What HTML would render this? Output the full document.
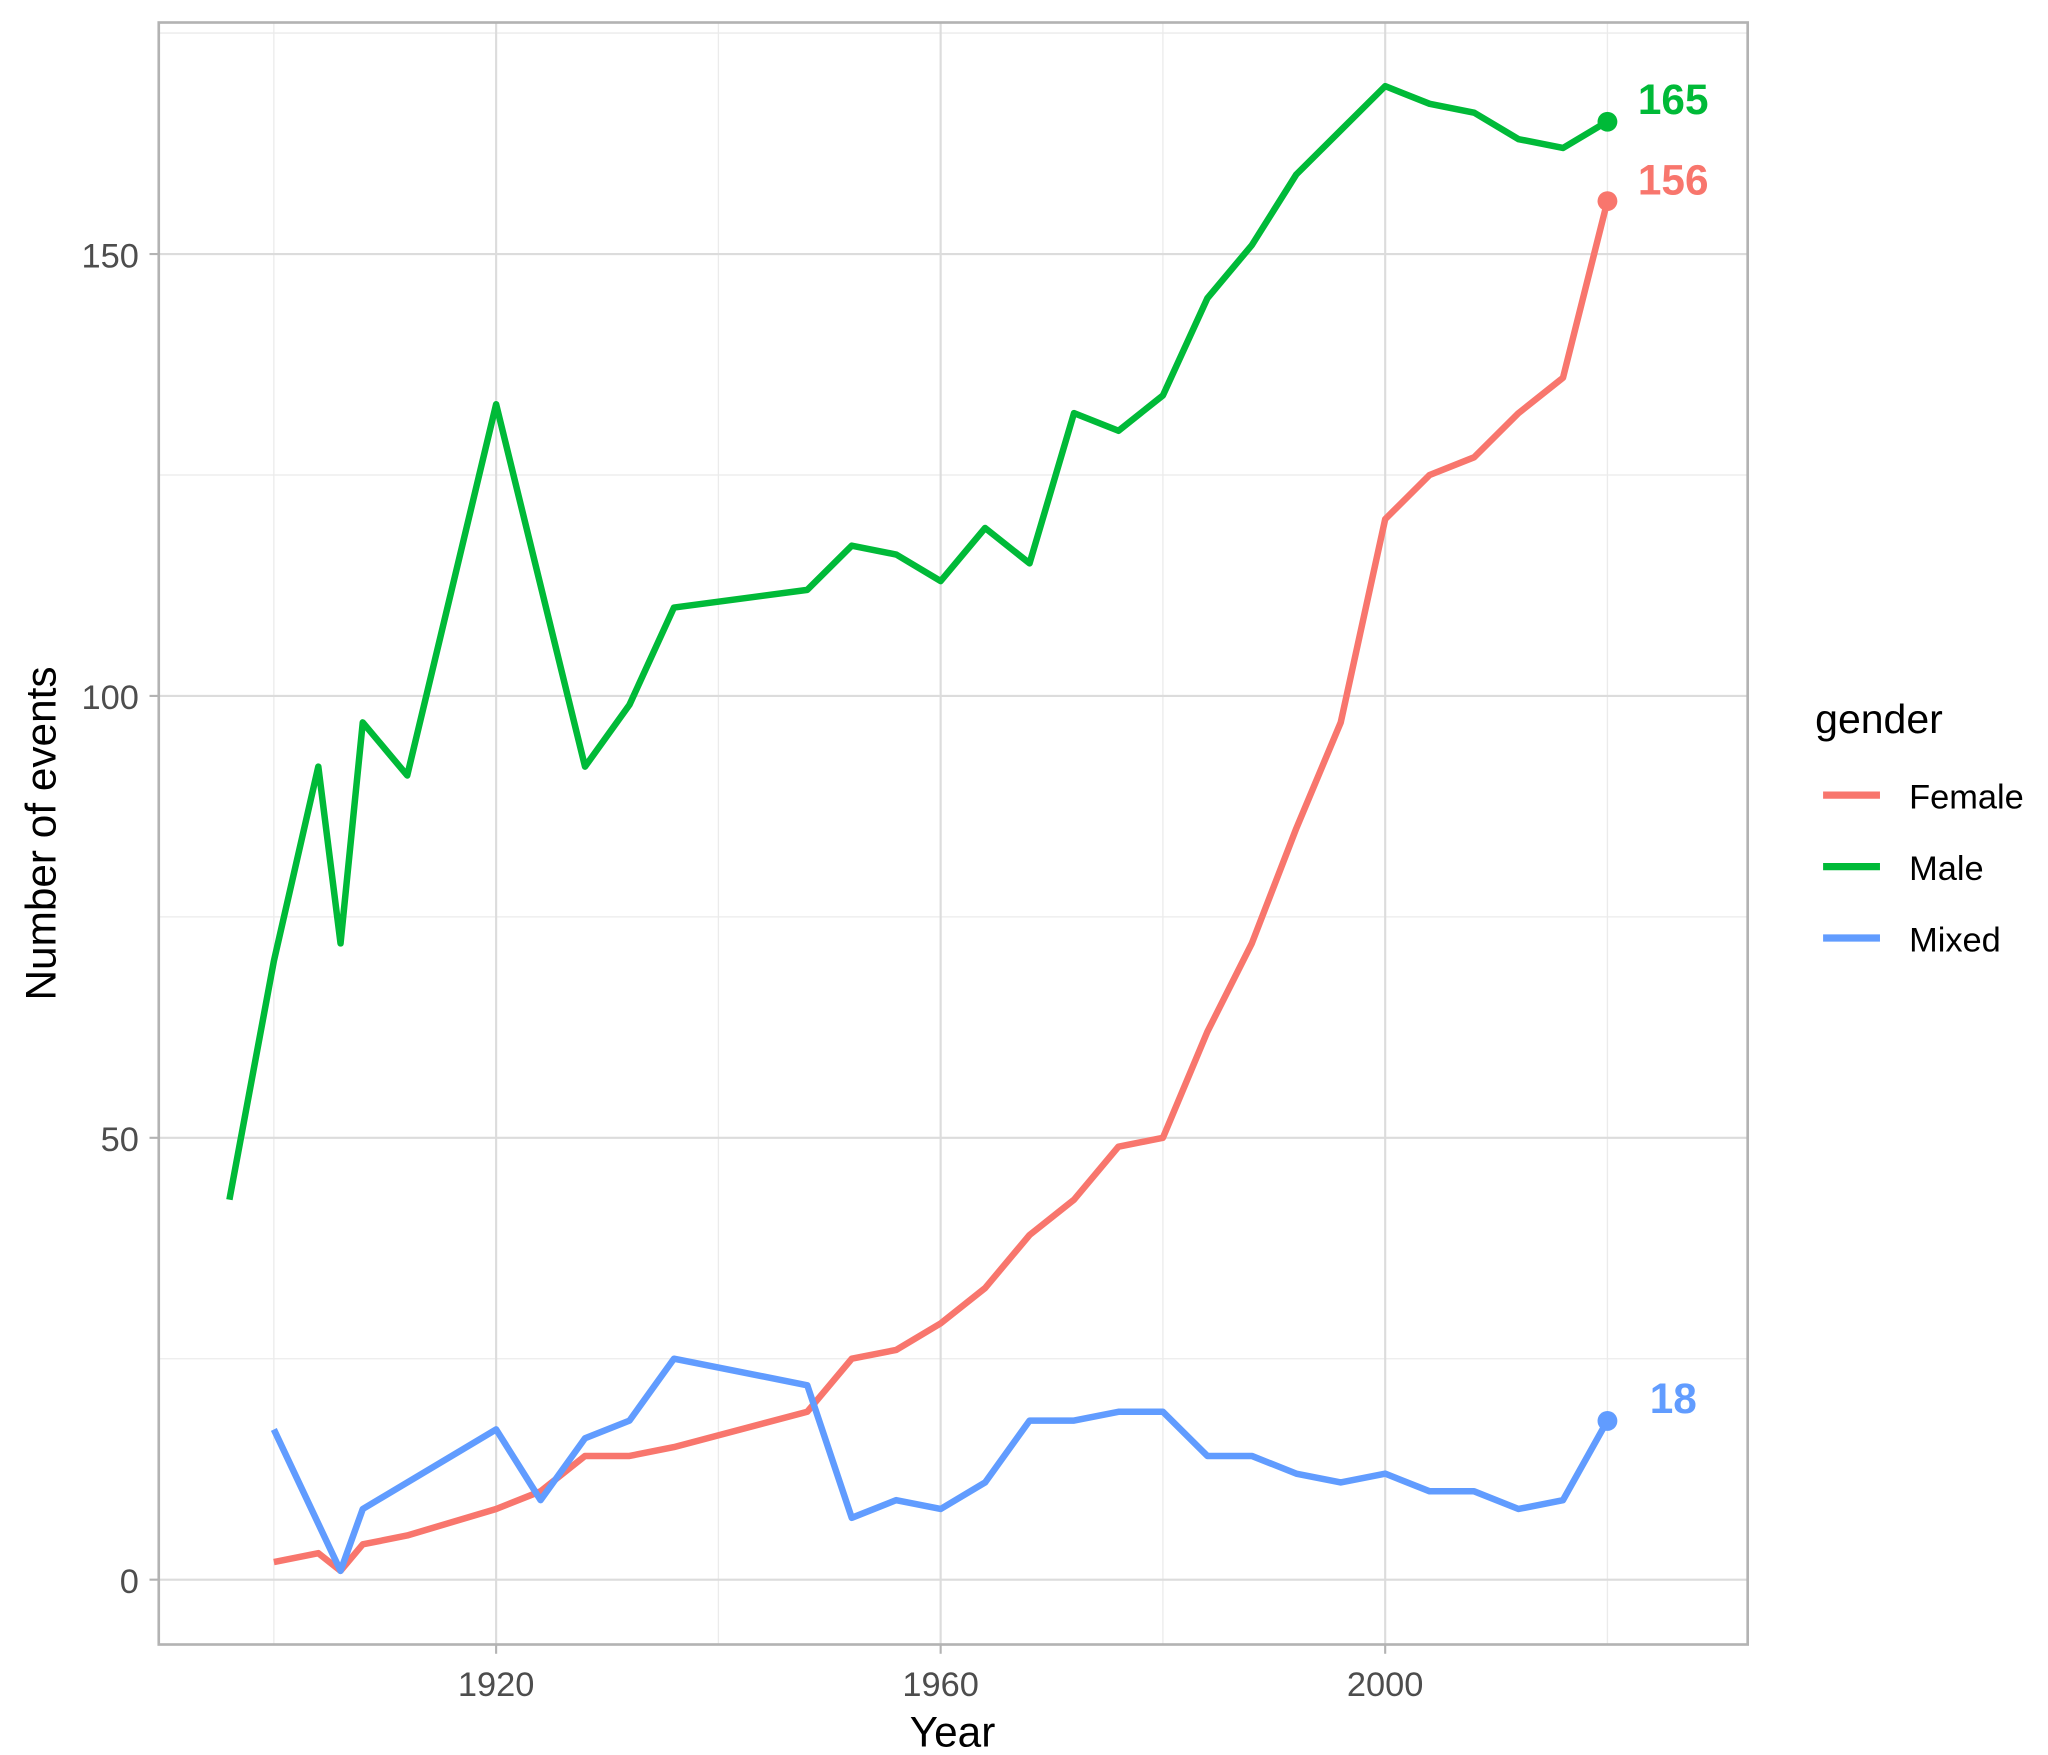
<!DOCTYPE html>
<html><head><meta charset="utf-8"><style>html,body{margin:0;padding:0;background:#fff}svg{display:block}</style></head>
<body>
<svg width="2048" height="1755" viewBox="0 0 1548 1326.5" xmlns="http://www.w3.org/2000/svg" font-family="Liberation Sans, Arial, sans-serif">
<rect width="1548" height="1326.5" fill="#fff"/>
<g stroke="#ebebeb" stroke-width="1">
<line x1="120" x2="1321" y1="1027" y2="1027"/><line x1="120" x2="1321" y1="693" y2="693"/><line x1="120" x2="1321" y1="359" y2="359"/><line x1="120" x2="1321" y1="25" y2="25"/>
<line y1="17" y2="1243" x1="207" x2="207"/><line y1="17" y2="1243" x1="543" x2="543"/><line y1="17" y2="1243" x1="879" x2="879"/><line y1="17" y2="1243" x1="1215" x2="1215"/>
</g>
<g stroke="#dcdcdc" stroke-width="1.6">
<line x1="120" x2="1321" y1="1194" y2="1194"/><line x1="120" x2="1321" y1="860" y2="860"/><line x1="120" x2="1321" y1="526" y2="526"/><line x1="120" x2="1321" y1="192" y2="192"/>
<line y1="17" y2="1243" x1="375" x2="375"/><line y1="17" y2="1243" x1="711" x2="711"/><line y1="17" y2="1243" x1="1047" x2="1047"/>
</g>
<rect x="120" y="17" width="1201" height="1226" fill="none" stroke="#b3b3b3" stroke-width="2"/>
<g stroke="#b3b3b3" stroke-width="1.6">
<line x1="113" x2="120" y1="1194" y2="1194"/><line x1="113" x2="120" y1="860" y2="860"/><line x1="113" x2="120" y1="526" y2="526"/><line x1="113" x2="120" y1="192" y2="192"/>
<line y1="1243" y2="1250" x1="375" x2="375"/><line y1="1243" y2="1250" x1="711" x2="711"/><line y1="1243" y2="1250" x1="1047" x2="1047"/>
</g>
<g fill="#4d4d4d" font-size="26" text-anchor="end">
<text x="105" y="1204">0</text><text x="105" y="870">50</text><text x="105" y="536">100</text><text x="105" y="202">150</text>
</g>
<g fill="#4d4d4d" font-size="26" text-anchor="middle">
<text x="375" y="1282">1920</text><text x="711" y="1282">1960</text><text x="1047" y="1282">2000</text>
</g>
<text x="720" y="1320" font-size="32" text-anchor="middle" fill="#000">Year</text>
<text transform="translate(42,630) rotate(-90)" font-size="32" text-anchor="middle" fill="#000">Number of events</text>
<g transform="translate(375,1194) scale(8.4,-6.68) translate(-1920,0)" fill="none" stroke-linejoin="round" stroke-linecap="butt">
<polyline vector-effect="non-scaling-stroke" stroke="#F8766D" stroke-width="6.5" points="1900,2 1904,3 1906,1 1908,4 1912,5 1920,8 1924,10 1928,14 1932,14 1936,15 1948,19 1952,25 1956,26 1960,29 1964,33 1968,39 1972,43 1976,49 1980,50 1984,62 1988,72 1992,85 1996,97 2000,120 2004,125 2008,127 2012,132 2016,136 2020,156"/>
<polyline vector-effect="non-scaling-stroke" stroke="#00BA38" stroke-width="6.5" points="1896,43 1900,70 1904,92 1906,72 1908,97 1912,91 1920,133 1928,92 1932,99 1936,110 1948,112 1952,117 1956,116 1960,113 1964,119 1968,115 1972,132 1976,130 1980,134 1984,145 1988,151 1992,159 1996,164 2000,169 2004,167 2008,166 2012,163 2016,162 2020,165"/>
<polyline vector-effect="non-scaling-stroke" stroke="#619CFF" stroke-width="6.5" points="1900,17 1906,1 1908,8 1920,17 1924,9 1928,16 1932,18 1936,25 1948,22 1952,7 1956,9 1960,8 1964,11 1968,18 1972,18 1976,19 1980,19 1984,14 1988,14 1992,12 1996,11 2000,12 2004,10 2008,10 2012,8 2016,9 2020,18"/>
</g>
<circle cx="1215" cy="92" r="7.5" fill="#00BA38"/>
<circle cx="1215" cy="152" r="7.5" fill="#F8766D"/>
<circle cx="1215" cy="1074" r="7.5" fill="#619CFF"/>
<g font-size="32" font-weight="bold">
<text x="1238" y="86" fill="#00BA38">165</text>
<text x="1238" y="147" fill="#F8766D">156</text>
<text x="1247" y="1068" fill="#619CFF">18</text>
</g>
<text x="1372" y="554" font-size="31" fill="#000">gender</text>
<g stroke-width="5.5">
<line x1="1378" x2="1421" y1="601" y2="601" stroke="#F8766D"/>
<line x1="1378" x2="1421" y1="655" y2="655" stroke="#00BA38"/>
<line x1="1378" x2="1421" y1="709" y2="709" stroke="#619CFF"/>
</g>
<g font-size="26" fill="#000">
<text x="1443" y="611">Female</text><text x="1443" y="665">Male</text><text x="1443" y="719">Mixed</text>
</g>
</svg>
</body></html>
